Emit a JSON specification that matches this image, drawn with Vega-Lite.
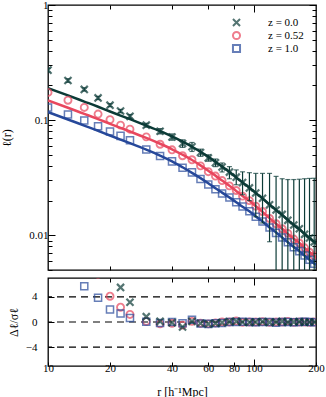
{
"$schema":"https://vega.github.io/schema/vega-lite/v6.json",
"background":"white",
"padding":{"left":0,"top":-2,"right":0,"bottom":0},
"spacing":0,
"datasets":{
"lines":[
{"z":"z = 0.0","r":10,"l":0.190},{"z":"z = 0.0","r":12.5,"l":0.164},{"z":"z = 0.0","r":15,"l":0.1451},{"z":"z = 0.0","r":17.5,"l":0.1308},{"z":"z = 0.0","r":20,"l":0.1190},{"z":"z = 0.0","r":22.5,"l":0.1096},{"z":"z = 0.0","r":25,"l":0.1020},{"z":"z = 0.0","r":30,"l":0.0897},{"z":"z = 0.0","r":35,"l":0.0802},{"z":"z = 0.0","r":40,"l":0.0722},{"z":"z = 0.0","r":45,"l":0.0650},{"z":"z = 0.0","r":50,"l":0.0588},{"z":"z = 0.0","r":55,"l":0.0532},{"z":"z = 0.0","r":60,"l":0.0482},{"z":"z = 0.0","r":65,"l":0.0436},{"z":"z = 0.0","r":70,"l":0.0396},{"z":"z = 0.0","r":76,"l":0.0354},{"z":"z = 0.0","r":82,"l":0.0318},{"z":"z = 0.0","r":88,"l":0.0287},{"z":"z = 0.0","r":95,"l":0.0259},{"z":"z = 0.0","r":102,"l":0.0233},{"z":"z = 0.0","r":110,"l":0.0209},{"z":"z = 0.0","r":119,"l":0.0185},{"z":"z = 0.0","r":128,"l":0.0166},{"z":"z = 0.0","r":137,"l":0.0150},{"z":"z = 0.0","r":146,"l":0.0136},{"z":"z = 0.0","r":156,"l":0.0123},{"z":"z = 0.0","r":166,"l":0.0113},{"z":"z = 0.0","r":176,"l":0.0103},{"z":"z = 0.0","r":186,"l":0.00948},{"z":"z = 0.0","r":196,"l":0.00877},{"z":"z = 0.0","r":200,"l":0.00851},
{"z":"z = 0.52","r":10,"l":0.1484},{"z":"z = 0.52","r":12.5,"l":0.1282},{"z":"z = 0.52","r":15,"l":0.1134},{"z":"z = 0.52","r":17.5,"l":0.1022},{"z":"z = 0.52","r":20,"l":0.0930},{"z":"z = 0.52","r":22.5,"l":0.0857},{"z":"z = 0.52","r":25,"l":0.0797},{"z":"z = 0.52","r":30,"l":0.0701},{"z":"z = 0.52","r":35,"l":0.0624},{"z":"z = 0.52","r":40,"l":0.0559},{"z":"z = 0.52","r":45,"l":0.0501},{"z":"z = 0.52","r":50,"l":0.0451},{"z":"z = 0.52","r":55,"l":0.0405},{"z":"z = 0.52","r":60,"l":0.0364},{"z":"z = 0.52","r":65,"l":0.0330},{"z":"z = 0.52","r":70,"l":0.0299},{"z":"z = 0.52","r":76,"l":0.0269},{"z":"z = 0.52","r":82,"l":0.0243},{"z":"z = 0.52","r":88,"l":0.0220},{"z":"z = 0.52","r":95,"l":0.0200},{"z":"z = 0.52","r":102,"l":0.0179},{"z":"z = 0.52","r":110,"l":0.0160},{"z":"z = 0.52","r":119,"l":0.0141},{"z":"z = 0.52","r":128,"l":0.0126},{"z":"z = 0.52","r":137,"l":0.0114},{"z":"z = 0.52","r":146,"l":0.0103},{"z":"z = 0.52","r":156,"l":0.00933},{"z":"z = 0.52","r":166,"l":0.00858},{"z":"z = 0.52","r":176,"l":0.00779},{"z":"z = 0.52","r":186,"l":0.00717},{"z":"z = 0.52","r":196,"l":0.00663},{"z":"z = 0.52","r":200,"l":0.00643},
{"z":"z = 1.0","r":10,"l":0.1174},{"z":"z = 1.0","r":12.5,"l":0.1014},{"z":"z = 1.0","r":15,"l":0.0897},{"z":"z = 1.0","r":17.5,"l":0.0809},{"z":"z = 1.0","r":20,"l":0.0736},{"z":"z = 1.0","r":22.5,"l":0.0678},{"z":"z = 1.0","r":25,"l":0.0631},{"z":"z = 1.0","r":30,"l":0.0555},{"z":"z = 1.0","r":35,"l":0.0493},{"z":"z = 1.0","r":40,"l":0.0439},{"z":"z = 1.0","r":45,"l":0.0390},{"z":"z = 1.0","r":50,"l":0.0349},{"z":"z = 1.0","r":55,"l":0.0314},{"z":"z = 1.0","r":60,"l":0.0283},{"z":"z = 1.0","r":65,"l":0.0256},{"z":"z = 1.0","r":70,"l":0.0235},{"z":"z = 1.0","r":76,"l":0.0213},{"z":"z = 1.0","r":82,"l":0.0194},{"z":"z = 1.0","r":88,"l":0.0177},{"z":"z = 1.0","r":95,"l":0.0162},{"z":"z = 1.0","r":102,"l":0.0146},{"z":"z = 1.0","r":110,"l":0.0132},{"z":"z = 1.0","r":119,"l":0.0117},{"z":"z = 1.0","r":128,"l":0.0106},{"z":"z = 1.0","r":137,"l":0.00958},{"z":"z = 1.0","r":146,"l":0.00872},{"z":"z = 1.0","r":156,"l":0.00792},{"z":"z = 1.0","r":166,"l":0.00729},{"z":"z = 1.0","r":176,"l":0.00666},{"z":"z = 1.0","r":186,"l":0.00614},{"z":"z = 1.0","r":196,"l":0.00569},{"z":"z = 1.0","r":200,"l":0.00553}
],
"pts":[
{"z":"z = 0.52","r":10,"l":0.174},{"z":"z = 0.52","r":12.5,"l":0.149},{"z":"z = 0.52","r":15,"l":0.129},{"z":"z = 0.52","r":17.5,"l":0.113},{"z":"z = 0.52","r":20,"l":0.101},{"z":"z = 0.52","r":22.5,"l":0.0905},{"z":"z = 0.52","r":25,"l":0.0835},{"z":"z = 0.52","r":30,"l":0.0716},{"z":"z = 0.52","r":35,"l":0.0618},{"z":"z = 0.52","r":40,"l":0.0553},{"z":"z = 0.52","r":45,"l":0.0491},{"z":"z = 0.52","r":50,"l":0.0453},{"z":"z = 0.52","r":55,"l":0.0401},{"z":"z = 0.52","r":60,"l":0.0357},{"z":"z = 0.52","r":65,"l":0.0327},{"z":"z = 0.52","r":70,"l":0.0299},{"z":"z = 0.52","r":76,"l":0.0269},{"z":"z = 0.52","r":82,"l":0.0245},{"z":"z = 0.52","r":88,"l":0.0219},{"z":"z = 0.52","r":95,"l":0.0200},{"z":"z = 0.52","r":102,"l":0.0179},{"z":"z = 0.52","r":110,"l":0.0161},{"z":"z = 0.52","r":119,"l":0.0140},{"z":"z = 0.52","r":128,"l":0.0126},{"z":"z = 0.52","r":137,"l":0.0114},{"z":"z = 0.52","r":146,"l":0.0104},{"z":"z = 0.52","r":156,"l":0.00928},{"z":"z = 0.52","r":166,"l":0.00858},{"z":"z = 0.52","r":176,"l":0.00779},{"z":"z = 0.52","r":186,"l":0.00713},{"z":"z = 0.52","r":196,"l":0.00663},
{"z":"z = 1.0","r":10,"l":0.129},{"z":"z = 1.0","r":12.5,"l":0.112},{"z":"z = 1.0","r":15,"l":0.0994},{"z":"z = 1.0","r":17.5,"l":0.0887},{"z":"z = 1.0","r":20,"l":0.0797},{"z":"z = 1.0","r":22.5,"l":0.0730},{"z":"z = 1.0","r":25,"l":0.0670},{"z":"z = 1.0","r":30,"l":0.0556},{"z":"z = 1.0","r":35,"l":0.0488},{"z":"z = 1.0","r":40,"l":0.0439},{"z":"z = 1.0","r":45,"l":0.0386},{"z":"z = 1.0","r":50,"l":0.0352},{"z":"z = 1.0","r":55,"l":0.0308},{"z":"z = 1.0","r":60,"l":0.0276},{"z":"z = 1.0","r":65,"l":0.0251},{"z":"z = 1.0","r":70,"l":0.0231},{"z":"z = 1.0","r":76,"l":0.0213},{"z":"z = 1.0","r":82,"l":0.0194},{"z":"z = 1.0","r":88,"l":0.0178},{"z":"z = 1.0","r":95,"l":0.0162},{"z":"z = 1.0","r":102,"l":0.0145},{"z":"z = 1.0","r":110,"l":0.0132},{"z":"z = 1.0","r":119,"l":0.0117},{"z":"z = 1.0","r":128,"l":0.0105},{"z":"z = 1.0","r":137,"l":0.00958},{"z":"z = 1.0","r":146,"l":0.00872},{"z":"z = 1.0","r":156,"l":0.00788},{"z":"z = 1.0","r":166,"l":0.00729},{"z":"z = 1.0","r":176,"l":0.00669},{"z":"z = 1.0","r":186,"l":0.00614},{"z":"z = 1.0","r":196,"l":0.00566},
{"z":"z = 0.0","r":10,"l":0.272},{"z":"z = 0.0","r":12.5,"l":0.221},{"z":"z = 0.0","r":15,"l":0.185},{"z":"z = 0.0","r":17.5,"l":0.156},{"z":"z = 0.0","r":20,"l":0.135},{"z":"z = 0.0","r":22.5,"l":0.120},{"z":"z = 0.0","r":25,"l":0.108},{"z":"z = 0.0","r":30,"l":0.0905},{"z":"z = 0.0","r":35,"l":0.0802},{"z":"z = 0.0","r":40,"l":0.0715},{"z":"z = 0.0","r":45,"l":0.0627},{"z":"z = 0.0","r":50,"l":0.0588},{"z":"z = 0.0","r":55,"l":0.0524},{"z":"z = 0.0","r":60,"l":0.0470},{"z":"z = 0.0","r":65,"l":0.0427},{"z":"z = 0.0","r":70,"l":0.0392},{"z":"z = 0.0","r":76,"l":0.0354},{"z":"z = 0.0","r":82,"l":0.0320},{"z":"z = 0.0","r":88,"l":0.0287},{"z":"z = 0.0","r":95,"l":0.0258},{"z":"z = 0.0","r":102,"l":0.0233},{"z":"z = 0.0","r":110,"l":0.0210},{"z":"z = 0.0","r":119,"l":0.0184},{"z":"z = 0.0","r":128,"l":0.0166},{"z":"z = 0.0","r":137,"l":0.0152},{"z":"z = 0.0","r":146,"l":0.0135},{"z":"z = 0.0","r":156,"l":0.0123},{"z":"z = 0.0","r":166,"l":0.0114},{"z":"z = 0.0","r":176,"l":0.0102},{"z":"z = 0.0","r":186,"l":0.00948},{"z":"z = 0.0","r":196,"l":0.00877}
],
"err":[
{"r":10,"lo":0.262,"hi":0.282},{"r":12.5,"lo":0.213,"hi":0.229},{"r":15,"lo":0.179,"hi":0.191},{"r":17.5,"lo":0.151,"hi":0.161},{"r":20,"lo":0.131,"hi":0.139},{"r":22.5,"lo":0.116,"hi":0.124},{"r":25,"lo":0.104,"hi":0.112},{"r":30,"lo":0.087,"hi":0.094},{"r":35,"lo":0.076,"hi":0.0845},{"r":40,"lo":0.067,"hi":0.076},{"r":45,"lo":0.058,"hi":0.0675},{"r":50,"lo":0.0535,"hi":0.064},{"r":55,"lo":0.0485,"hi":0.056},{"r":60,"lo":0.044,"hi":0.050},{"r":65,"lo":0.0395,"hi":0.046},{"r":70,"lo":0.0355,"hi":0.0425},{"r":76,"lo":0.031,"hi":0.0395},{"r":82,"lo":0.0275,"hi":0.037},{"r":88,"lo":0.0225,"hi":0.0356},{"r":95,"lo":0.020,"hi":0.035},{"r":102,"lo":0.0145,"hi":0.0345},{"r":110,"lo":0.0128,"hi":0.0345},{"r":119,"lo":0.0088,"hi":0.0345},{"r":128,"lo":0.003,"hi":0.0325},{"r":137,"lo":0.002,"hi":0.031},{"r":146,"lo":0.002,"hi":0.0305},{"r":156,"lo":0.002,"hi":0.0305},{"r":166,"lo":0.002,"hi":0.0307},{"r":176,"lo":0.002,"hi":0.031},{"r":186,"lo":0.002,"hi":0.0312},{"r":196,"lo":0.002,"hi":0.0313}
],
"res":[
{"z":"z = 0.52","r":10,"d":25},{"z":"z = 0.52","r":12.5,"d":17},{"z":"z = 0.52","r":15,"d":11},{"z":"z = 0.52","r":17.5,"d":7.6},{"z":"z = 0.52","r":20,"d":4.1},{"z":"z = 0.52","r":22.5,"d":2.35},{"z":"z = 0.52","r":25,"d":1.2},{"z":"z = 0.52","r":30,"d":0.1},{"z":"z = 0.52","r":35,"d":-0.3},{"z":"z = 0.52","r":40,"d":-0.2},{"z":"z = 0.52","r":45,"d":-0.5},{"z":"z = 0.52","r":50,"d":0.1},{"z":"z = 0.52","r":55,"d":-0.2},{"z":"z = 0.52","r":60,"d":-0.3},{"z":"z = 0.52","r":65,"d":-0.15},{"z":"z = 0.52","r":70,"d":0},{"z":"z = 0.52","r":76,"d":0},{"z":"z = 0.52","r":82,"d":0.15},{"z":"z = 0.52","r":88,"d":-0.05},{"z":"z = 0.52","r":95,"d":0},{"z":"z = 0.52","r":102,"d":0},{"z":"z = 0.52","r":110,"d":0.05},{"z":"z = 0.52","r":119,"d":-0.05},{"z":"z = 0.52","r":128,"d":0},{"z":"z = 0.52","r":137,"d":0},{"z":"z = 0.52","r":146,"d":0.1},{"z":"z = 0.52","r":156,"d":-0.05},{"z":"z = 0.52","r":166,"d":0},{"z":"z = 0.52","r":176,"d":0},{"z":"z = 0.52","r":186,"d":-0.05},{"z":"z = 0.52","r":196,"d":0},
{"z":"z = 1.0","r":10,"d":14},{"z":"z = 1.0","r":12.5,"d":9.5},{"z":"z = 1.0","r":15,"d":5.7},{"z":"z = 1.0","r":17.5,"d":3.85},{"z":"z = 1.0","r":20,"d":2.0},{"z":"z = 1.0","r":22.5,"d":1.35},{"z":"z = 1.0","r":25,"d":0.65},{"z":"z = 1.0","r":30,"d":0.05},{"z":"z = 1.0","r":35,"d":-0.15},{"z":"z = 1.0","r":40,"d":0},{"z":"z = 1.0","r":45,"d":-0.2},{"z":"z = 1.0","r":50,"d":0.35},{"z":"z = 1.0","r":55,"d":-0.25},{"z":"z = 1.0","r":60,"d":-0.3},{"z":"z = 1.0","r":65,"d":-0.2},{"z":"z = 1.0","r":70,"d":-0.15},{"z":"z = 1.0","r":76,"d":0},{"z":"z = 1.0","r":82,"d":0},{"z":"z = 1.0","r":88,"d":0.05},{"z":"z = 1.0","r":95,"d":0},{"z":"z = 1.0","r":102,"d":-0.05},{"z":"z = 1.0","r":110,"d":0},{"z":"z = 1.0","r":119,"d":0},{"z":"z = 1.0","r":128,"d":-0.1},{"z":"z = 1.0","r":137,"d":0},{"z":"z = 1.0","r":146,"d":0},{"z":"z = 1.0","r":156,"d":-0.05},{"z":"z = 1.0","r":166,"d":0},{"z":"z = 1.0","r":176,"d":0.05},{"z":"z = 1.0","r":186,"d":0},{"z":"z = 1.0","r":196,"d":-0.05},
{"z":"z = 0.0","r":10,"d":40},{"z":"z = 0.0","r":12.5,"d":30},{"z":"z = 0.0","r":15,"d":22},{"z":"z = 0.0","r":17.5,"d":14},{"z":"z = 0.0","r":20,"d":9},{"z":"z = 0.0","r":22.5,"d":5.5},{"z":"z = 0.0","r":25,"d":3.15},{"z":"z = 0.0","r":30,"d":0.85},{"z":"z = 0.0","r":35,"d":0.1},{"z":"z = 0.0","r":40,"d":-0.1},{"z":"z = 0.0","r":45,"d":-0.8},{"z":"z = 0.0","r":50,"d":0.1},{"z":"z = 0.0","r":55,"d":-0.2},{"z":"z = 0.0","r":60,"d":-0.3},{"z":"z = 0.0","r":65,"d":-0.2},{"z":"z = 0.0","r":70,"d":-0.1},{"z":"z = 0.0","r":76,"d":0.05},{"z":"z = 0.0","r":82,"d":0.1},{"z":"z = 0.0","r":88,"d":0},{"z":"z = 0.0","r":95,"d":-0.05},{"z":"z = 0.0","r":102,"d":0},{"z":"z = 0.0","r":110,"d":0.05},{"z":"z = 0.0","r":119,"d":-0.05},{"z":"z = 0.0","r":128,"d":0},{"z":"z = 0.0","r":137,"d":0.1},{"z":"z = 0.0","r":146,"d":-0.05},{"z":"z = 0.0","r":156,"d":0},{"z":"z = 0.0","r":166,"d":0.05},{"z":"z = 0.0","r":176,"d":-0.05},{"z":"z = 0.0","r":186,"d":0},{"z":"z = 0.0","r":196,"d":0}
],
"hl":[{"h":4},{"h":0},{"h":-4}]
},
"vconcat":[
{
"width":268,"height":265,
"layer":[
{"data":{"name":"lines"},
 "mark":{"type":"line","strokeWidth":2.5,"interpolate":"monotone","clip":true},
 "encoding":{
  "x":{"field":"r","type":"quantitative","scale":{"type":"log","domain":[10,200],"nice":false},
       "axis":{"orient":"bottom","values":[20,40,60,80,100],"labels":false,"title":null,"tickSize":{"condition":{"test":"datum.value==100","value":-7},"value":-4}}},
  "y":{"field":"l","type":"quantitative","scale":{"type":"log","domain":[0.005,1],"nice":false},
       "axis":{"orient":"left","title":"ℓ(r)","titlePadding":15,
        "values":[0.005,0.006,0.007,0.008,0.009,0.01,0.02,0.03,0.04,0.05,0.06,0.07,0.08,0.09,0.1,0.2,0.3,0.4,0.5,0.6,0.7,0.8,0.9,1],
        "labelExpr":"datum.value==1?'1':datum.value==0.1?'0.1':datum.value==0.01?'0.01':''",
        "tickSize":{"condition":{"test":"datum.value==1||datum.value==0.1||datum.value==0.01","value":-7},"value":-4},
        "labelPadding":7}},
  "stroke":{"field":"z","type":"nominal","scale":{"domain":["z = 0.0","z = 0.52","z = 1.0"],"range":["#0c3b37","#e8475e","#26489a"]},"legend":null}
 }},
{"data":{"name":"pts"},
 "mark":{"type":"point","filled":false,"clip":true,"size":50},
 "encoding":{
  "x":{"field":"r","type":"quantitative","scale":{"type":"log","domain":[10,200],"nice":false},
       "axis":{"orient":"top","values":[20,40,60,80,100],"labels":false,"title":null,"tickSize":{"condition":{"test":"datum.value==100","value":-7},"value":-4}}},
  "y":{"field":"l","type":"quantitative","scale":{"type":"log","domain":[0.005,1],"nice":false},
       "axis":{"orient":"right","title":null,"labels":false,
        "values":[0.005,0.006,0.007,0.008,0.009,0.01,0.02,0.03,0.04,0.05,0.06,0.07,0.08,0.09,0.1,0.2,0.3,0.4,0.5,0.6,0.7,0.8,0.9,1],
        "tickSize":{"condition":{"test":"datum.value==1||datum.value==0.1||datum.value==0.01","value":-7},"value":-4}}},
  "color":{"field":"z","type":"nominal","scale":{"domain":["z = 0.0","z = 0.52","z = 1.0"],"range":["#0c3b37","#e8475e","#26489a"]},
     "legend":{"orient":"none","legendX":183,"legendY":12,"title":null,"padding":0,"labelOffset":26,"rowPadding":1,"clipHeight":11,"symbolSize":50,"symbolStrokeWidth":2,"labelFont":"Liberation Serif","labelFontSize":11}},
  "shape":{"field":"z","type":"nominal","scale":{"domain":["z = 0.0","z = 0.52","z = 1.0"],"range":["M-1,-1L1,1M-1,1L1,-1","circle","square"]},
     "legend":{"orient":"none","legendX":183,"legendY":12,"title":null,"padding":0,"labelOffset":26,"rowPadding":1,"clipHeight":11,"symbolSize":50,"symbolStrokeWidth":2,"labelFont":"Liberation Serif","labelFontSize":11}},
  "strokeWidth":{"field":"z","type":"nominal","scale":{"domain":["z = 0.0","z = 0.52","z = 1.0"],"range":[2.2,1.5,1.5]},"legend":null}
 }},
{"data":{"name":"err"},
 "mark":{"type":"rule","color":"#0c3b37","strokeWidth":1.2,"clip":true},
 "encoding":{
  "x":{"field":"r","type":"quantitative","scale":{"type":"log","domain":[10,200],"nice":false},"axis":null},
  "y":{"field":"lo","type":"quantitative","scale":{"type":"log","domain":[0.005,1],"nice":false},"axis":null},
  "y2":{"field":"hi"}
 }},
{"data":{"name":"err"},
 "mark":{"type":"tick","orient":"horizontal","size":5,"thickness":1.2,"color":"#0c3b37","clip":true},
 "encoding":{
  "x":{"field":"r","type":"quantitative","scale":{"type":"log","domain":[10,200],"nice":false},"axis":null},
  "y":{"field":"lo","type":"quantitative","scale":{"type":"log","domain":[0.005,1],"nice":false},"axis":null}
 }},
{"data":{"name":"err"},
 "mark":{"type":"tick","orient":"horizontal","size":5,"thickness":1.2,"color":"#0c3b37","clip":true},
 "encoding":{
  "x":{"field":"r","type":"quantitative","scale":{"type":"log","domain":[10,200],"nice":false},"axis":null},
  "y":{"field":"hi","type":"quantitative","scale":{"type":"log","domain":[0.005,1],"nice":false},"axis":null}
 }}
],
"resolve":{"axis":{"x":"independent","y":"independent"}}
},
{
"width":268,"height":88,
"layer":[
{"data":{"name":"hl"},
 "mark":{"type":"rule","strokeDash":[7,5],"strokeWidth":1.2,"color":"#000"},
 "encoding":{
  "y":{"field":"h","type":"quantitative","scale":{"domain":[-7,7],"nice":false,"zero":false},
       "axis":{"orient":"left","values":[-4,0,4],"title":"Δℓ/σℓ","titlePadding":5,"tickSize":-6,"labelPadding":17}}
 }},
{"data":{"name":"res"},
 "mark":{"type":"point","filled":false,"clip":true,"size":50},
 "encoding":{
  "x":{"field":"r","type":"quantitative","scale":{"type":"log","domain":[10,200],"nice":false},
       "axis":{"orient":"bottom","values":[10,20,40,60,80,100,200],"format":"d","title":"r [h⁻¹Mpc]","titlePadding":13,
        "tickSize":{"condition":{"test":"datum.value==100","value":-7},"value":-4},
        "labelPadding":{"condition":{"test":"datum.value==100","value":3},"value":0}}},
  "y":{"field":"d","type":"quantitative","scale":{"domain":[-7,7],"nice":false,"zero":false},"axis":null},
  "color":{"field":"z","type":"nominal","scale":{"domain":["z = 0.0","z = 0.52","z = 1.0"],"range":["#0c3b37","#e8475e","#26489a"]},"legend":null},
  "shape":{"field":"z","type":"nominal","scale":{"domain":["z = 0.0","z = 0.52","z = 1.0"],"range":["M-1,-1L1,1M-1,1L1,-1","circle","square"]},"legend":null},
  "strokeWidth":{"field":"z","type":"nominal","scale":{"domain":["z = 0.0","z = 0.52","z = 1.0"],"range":[2.2,1.5,1.5]},"legend":null}
 }},
{"data":{"name":"res"},
 "mark":{"type":"point","opacity":0,"clip":true},
 "encoding":{
  "x":{"field":"r","type":"quantitative","scale":{"type":"log","domain":[10,200],"nice":false},
       "axis":{"orient":"top","values":[20,40,60,80,100],"labels":false,"title":null,"tickSize":{"condition":{"test":"datum.value==100","value":-7},"value":-4}}},
  "y":{"field":"d","type":"quantitative","scale":{"domain":[-7,7],"nice":false,"zero":false},"axis":null}
 }}
],
"resolve":{"axis":{"x":"independent","y":"independent"}}
}
],
"resolve":{"legend":{"color":"independent","shape":"independent"}},
"config":{
 "view":{"stroke":"#000","strokeWidth":1.3},
 "axis":{"labelFont":"Liberation Serif","labelFontSize":11,"titleFont":"Liberation Serif","titleFontSize":12,"titleFontWeight":"normal","labelColor":"#000","titleColor":"#000","tickColor":"#000","tickWidth":1,"grid":false,"domain":false,"labelOverlap":false,"labelFlush":false},
 "legend":{"labelFont":"Liberation Serif","labelFontSize":11,"labelColor":"#000"}
}
}
